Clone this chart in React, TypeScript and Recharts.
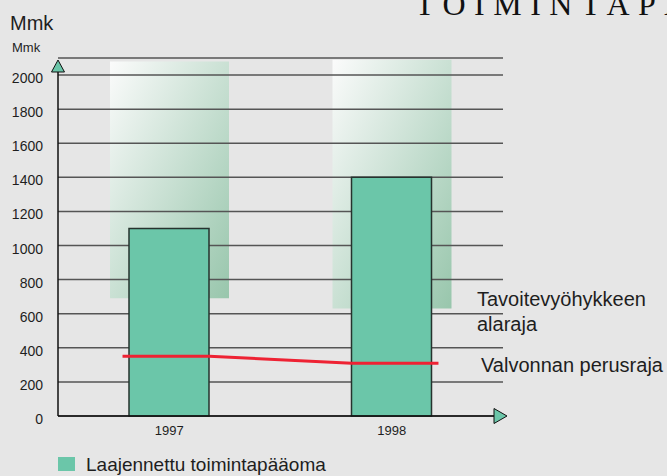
import React from 'react';
import { ComposedChart, Bar, Line, XAxis, YAxis, CartesianGrid } from 'recharts';

// Laajennettu toimintapääoma, Mmk
const years = [1997, 1998];
const capitalValues = [1100, 1400];

// target zone (Tavoitevyöhyke) low / high
const zoneLow = [690, 630];
const zoneHigh = [2080, 2090];

// Valvonnan perusraja, drawn across each year's bar
const limitX = [1996.79, 1997.18, 1997.82, 1998.21];
const limitValues = [350, 350, 310, 310];

const yTicks = [0, 200, 400, 600, 800, 1000, 1200, 1400, 1600, 1800, 2000];

const barData = years.map((year, i) => ({
  year,
  capital: capitalValues[i],
  zone: [zoneLow[i], zoneHigh[i]],
}));
const limitData = limitX.map((x, i) => ({ year: x, limit: limitValues[i] }));

const W = 667;
const H = 476;
const xAxisH = 30;
const margin = { top: 58, right: 164, bottom: 60 - xAxisH, left: 0 };
const axisW = 58;
const plotLeft = margin.left + axisW;
const plotBottom = H - margin.bottom - xAxisH;
const xDomain = [1996.5, 1998.5];

const font = '"Liberation Sans", Arial, Helvetica, sans-serif';
const green = '#6bc6a9';

const YTick = (props: any) => {
  const { x, y, payload } = props;
  return (
    <text x={x} y={y} dy={8} textAnchor="end" fontSize={14} fill="#1e1e1e" fontFamily={font}>
      {payload.value}
    </text>
  );
};

const XTick = (props: any) => {
  const { x, y, payload } = props;
  return (
    <text x={x} y={y} dy={19} textAnchor="middle" fontSize={13} fill="#1e1e1e" fontFamily={font}>
      {payload.value}
    </text>
  );
};

export default function App() {
  return (
    <div
      style={{
        position: 'absolute',
        left: 0,
        top: 0,
        width: W,
        height: H,
        background: '#e6e6e6',
        overflow: 'hidden',
        fontFamily: font,
      }}
    >
      <ComposedChart width={W} height={H} margin={margin} data={barData}>
        <defs>
          <linearGradient id="zoneFill" x1="0" y1="0" x2="1" y2="1">
            <stop offset="0%" stopColor="#fbfbfb" />
            <stop offset="100%" stopColor="#98c6ac" />
          </linearGradient>
        </defs>
        <XAxis
          xAxisId="main"
          dataKey="year"
          type="number"
          domain={xDomain}
          ticks={years}
          height={xAxisH}
          axisLine={false}
          tickLine={false}
          tickSize={0}
          tickMargin={0}
          tick={<XTick />}
        />
        <XAxis xAxisId="zone" dataKey="year" type="number" domain={xDomain} ticks={years} height={0} hide />
        <XAxis xAxisId="limit" dataKey="year" type="number" domain={xDomain} height={0} hide />
        <YAxis
          domain={[0, 2100]}
          ticks={yTicks}
          width={axisW}
          axisLine={false}
          tickLine={false}
          tickSize={0}
          tickMargin={15}
          tick={<YTick />}
        />
        <Bar
          xAxisId="zone"
          dataKey="zone"
          barSize={119}
          fill="url(#zoneFill)"
          isAnimationActive={false}
          zIndex={-200}
        />
        <CartesianGrid xAxisId="main" horizontal vertical={false} stroke="#555" strokeWidth={1.5} />
        <Bar
          xAxisId="main"
          dataKey="capital"
          barSize={80}
          fill={green}
          stroke="#26332e"
          strokeWidth={1.5}
          isAnimationActive={false}
        />
        <Line
          xAxisId="limit"
          data={limitData}
          dataKey="limit"
          type="linear"
          stroke="#ee2233"
          strokeWidth={3}
          dot={false}
          isAnimationActive={false}
        />
      </ComposedChart>

      <svg width={W} height={H} style={{ position: 'absolute', left: 0, top: 0, pointerEvents: 'none' }}>
        <text x={415} y={15} fontFamily='"Liberation Serif", "Times New Roman", serif' fontSize={32} letterSpacing={8.5} fill="#111">
          TOIMINTAPÄÄOMA
        </text>
        <text x={10} y={30} fontSize={20} fill="#1e1e1e" fontFamily={font}>Mmk</text>
        <text x={12} y={52} fontSize={13} fill="#1e1e1e" fontFamily={font}>Mmk</text>

        <line x1={plotLeft} y1={plotBottom} x2={plotLeft} y2={72} stroke="#111" strokeWidth={1.5} />
        <polygon points={`${plotLeft - 6.5},72 ${plotLeft + 6.5},72 ${plotLeft},60`} fill={green} stroke="#111" strokeWidth={1} />
        <line x1={plotLeft} y1={plotBottom} x2={494} y2={plotBottom} stroke="#111" strokeWidth={1.5} />
        <polygon points={`494,${plotBottom - 7.5} 494,${plotBottom + 7.5} 507,${plotBottom}`} fill={green} stroke="#111" strokeWidth={1} />

        <text x={477} y={306} fontSize={20} fill="#1e1e1e" fontFamily={font}>Tavoitevyöhykkeen</text>
        <text x={477} y={331} fontSize={20} fill="#1e1e1e" fontFamily={font}>alaraja</text>
        <text x={481} y={372} fontSize={20} fill="#1e1e1e" fontFamily={font}>Valvonnan perusraja</text>

        <rect x={58} y={457} width={17} height={14} fill={green} />
        <text x={86} y={471} fontSize={19} fill="#1e1e1e" fontFamily={font}>Laajennettu toimintapääoma</text>
      </svg>
    </div>
  );
}
